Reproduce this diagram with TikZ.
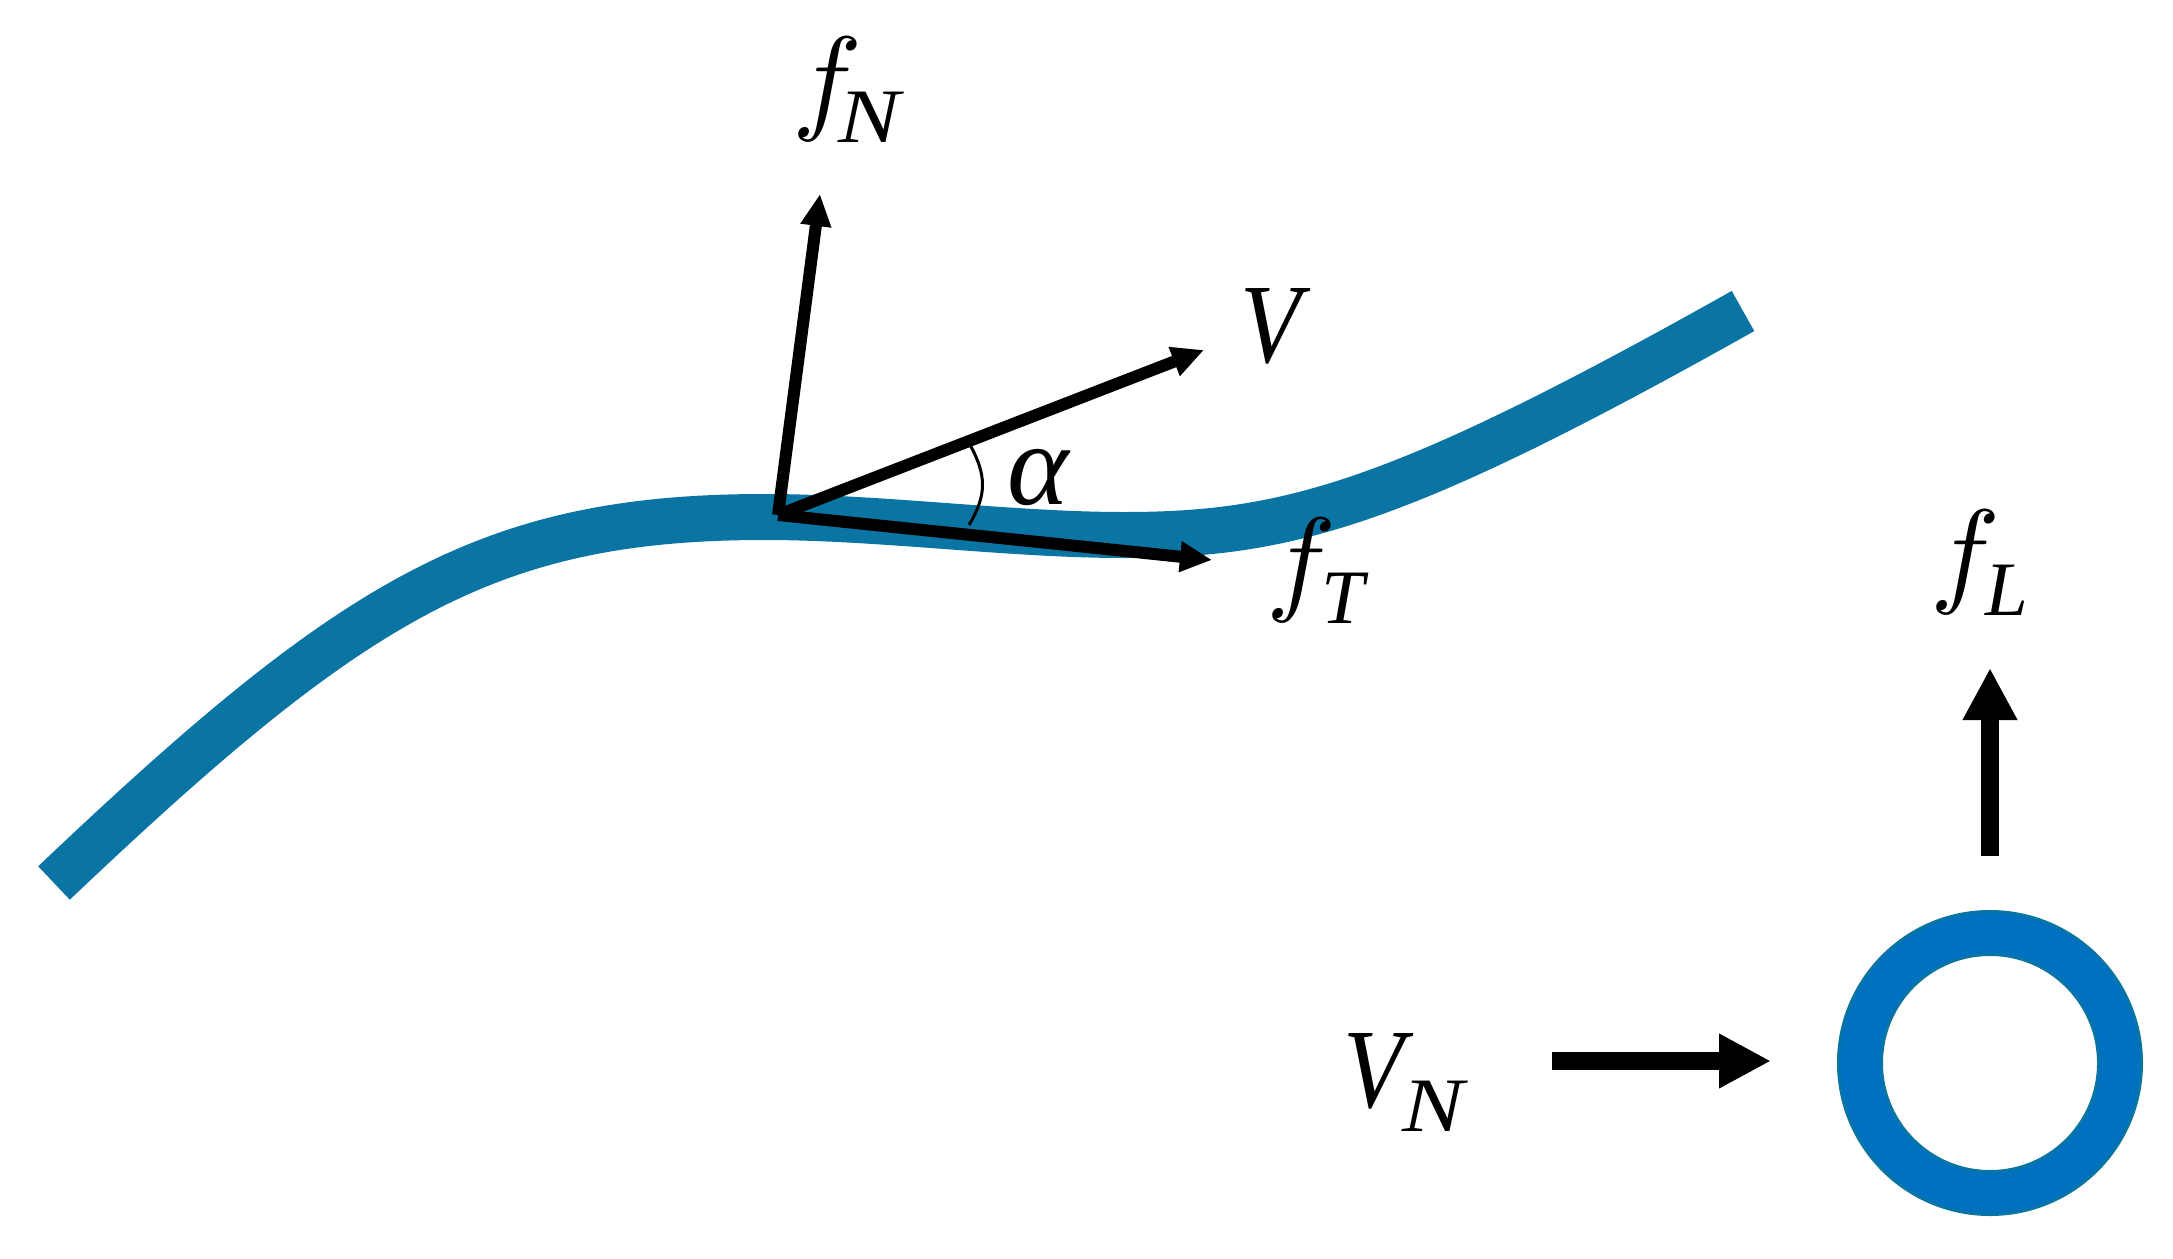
\documentclass[tikz,border=0pt]{standalone}
\usepackage{fontspec}
\setmainfont{Liberation Serif}
\newfontfamily\vfont[FakeStretch=0.88]{Liberation Serif}
\newfontfamily\nfont[FakeStretch=1.2]{Liberation Serif}
\usetikzlibrary{arrows.meta}
\definecolor{foil}{HTML}{0A74A3}
\definecolor{ring}{HTML}{0070C0}
\font\fcm=cmmi10 at 117pt
\newcommand{\lblmain}{\fontsize{117}{117}\selectfont\itshape}
\newcommand{\lblsub}[1]{\raisebox{-24pt}{\fontsize{77}{77}\selectfont\itshape #1}}
\newcommand{\lblsubn}{\raisebox{-24pt}{\nfont\fontsize{77}{77}\selectfont\itshape N}}
\newcommand{\lblf}{{\fcm f}}
\newcommand{\lblv}{{\vfont\fontsize{113}{113}\selectfont\itshape V}}
\tikzset{
  foilline/.style={draw=foil,line width=46pt,line cap=butt,line join=round},
  thinarrow/.style={draw=black,line width=12pt,-{Triangle[length=32pt,width=29pt]}},
  thickarrow/.style={draw=black,line width=18.5pt,-{Triangle[length=52pt,width=51pt]}},
  anglearc/.style={draw=black,line width=3pt},
  lbl/.style={anchor=base west,inner sep=0pt,outer sep=0pt,text=black,font=\lblmain},
  ringnode/.style={circle,draw=foil,double=ring,double distance=40pt,line width=3pt,minimum size=260pt,inner sep=0pt,outer sep=0pt}
}
\begin{document}
\begin{tikzpicture}[x=1pt,y=-1pt]
\useasboundingbox (0,0) rectangle (2173,1258);
\coordinate (fa) at (54,883);
\coordinate (fb) at (765,517);
\coordinate (fc) at (1124,535);
\coordinate (fd) at (1743,311);
\draw[foilline] (fa) .. controls (354,598) and (488,517) .. (fb)
  .. controls (880,517) and (1010,535) .. (fc)
  .. controls (1290,535) and (1401,503) .. (fd);
\coordinate (o) at (778,515);
\coordinate (tipN) at (820,194);
\coordinate (tipV) at (1204,350);
\coordinate (tipT) at (1212,560);
\draw[thinarrow] (o) -- (tipN);
\draw[thinarrow] (o) -- (tipV);
\draw[thinarrow] (o) -- (tipT);
\coordinate (a1) at (969,443);
\coordinate (a2) at (969,525);
\draw[anglearc] (a1) .. controls (987,475) and (987,495) .. (a2);
\coordinate (vs) at (1552,1061);
\coordinate (vt) at (1771,1061);
\draw[thickarrow] (vs) -- (vt);
\coordinate (ls) at (1990,856);
\coordinate (lt) at (1990,668);
\draw[thickarrow] (ls) -- (lt);
\node[ringnode] (cyl) at (1990,1063) {};
\node[lbl] (fN) at (792,118) {\lblf\kern-11pt\lblsubn};
\node[lbl] (fT) at (1266,599) {\lblf\kern-2pt\lblsub{T}};
\node[lbl] (fL) at (1930,591) {\lblf\kern-2pt\lblsub{L}};
\node[lbl] (V) at (1240,362) {\lblv};
\node[lbl] (alpha) at (1007,504) {α};
\node[lbl] (VN) at (1343,1107) {\lblv\kern-1pt\lblsubn};
\end{tikzpicture}
\end{document}
